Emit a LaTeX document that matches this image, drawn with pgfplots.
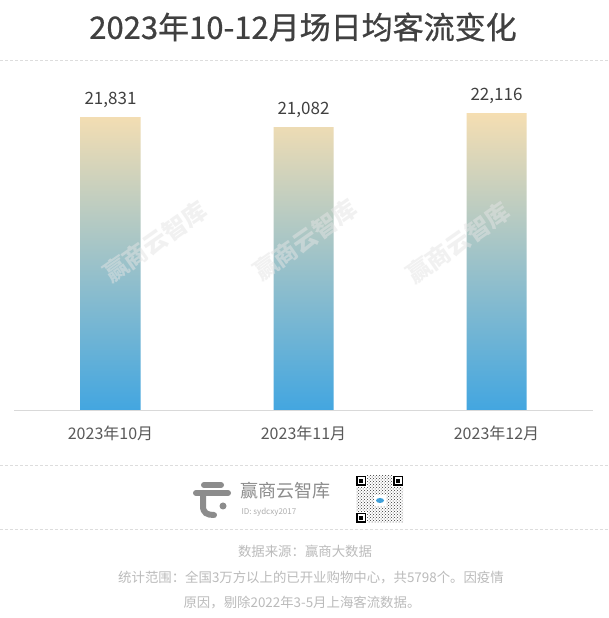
\documentclass[border=0pt]{standalone}
\usepackage{pgfplots}
\pgfplotsset{compat=1.18}
\usepackage{fontspec}
\setmainfont{Noto Sans CJK SC}
\newfontfamily\titlefont[FakeBold=0.7]{Noto Sans CJK SC}
\usetikzlibrary{patterns}

\definecolor{titlegray}{HTML}{404040}
\definecolor{labelgray}{HTML}{595959}
\definecolor{axisgray}{HTML}{D9D9D9}
\definecolor{dashgray}{HTML}{DDDDDD}
\definecolor{footgray}{HTML}{BBBBBB}
\definecolor{logogray}{HTML}{8C8C8C}
\definecolor{bartop}{HTML}{F5DEB2}
\definecolor{barmid}{HTML}{AFC6C7}
\definecolor{barbot}{HTML}{43A6E0}
\definecolor{wmgray}{HTML}{E4E4E4}
\definecolor{qrblue}{HTML}{3FA0DA}

\begin{document}
\begin{tikzpicture}[x=1pt,y=1pt]
\useasboundingbox[fill=white] (0,0) rectangle (608,618);

% title
\node[text=titlegray, font=\fontsize{31pt}{35pt}\titlefont] at (303,591) {2023年10-12月场日均客流变化};
\draw[dashgray, dash pattern=on 3pt off 2pt, line width=0.8pt] (0,558) -- (608,558);

\begin{axis}[
    at={(14pt,208pt)}, anchor=south west,
    scale only axis, width=579pt, height=335.5pt,
    xmin=-0.5, xmax=2.5, ymin=0, ymax=25000,
    axis x line*=bottom, axis y line=none,
    x axis line style={axisgray, line width=0.8pt, -},
    xtick={0,1,2},
    xticklabels={2023年10月, 2023年11月, 2023年12月},
    major x tick style={draw=none},
    extra x ticks={-0.5,0.5,1.5,2.5},
    extra x tick labels={},
    extra x tick style={tick align=outside, major tick length=7pt, tick style={axisgray, line width=0.8pt}},
    xticklabel style={text=labelgray, font=\fontsize{16pt}{19pt}\selectfont, anchor=center, yshift=-19pt},
    ybar, bar width=60pt,
    nodes near coords={\pgfmathprintnumber[1000 sep={,}, assume math mode=true]{\pgfplotspointmeta}},
    nodes near coords style={text=titlegray, font=\fontsize{17pt}{20pt}\selectfont, anchor=center, yshift=17pt},
    clip=false,
  ]
  \addplot[draw=none, top color=bartop, middle color=barmid, bottom color=barbot] coordinates {
    (0, 21831)
    (1, 21082)
    (2, 22116)
  };
\end{axis}

% watermarks, over the bars
\foreach \wx/\wy in {155/376, 305/378, 458/375}
  \node[text=wmgray, opacity=0.5, rotate=35, font=\fontsize{24pt}{26pt}\selectfont\bfseries] at (\wx,\wy) {赢商云智库};

% footer
\draw[dashgray, dash pattern=on 3pt off 2pt, line width=0.8pt] (0,153) -- (608,153);
\draw[dashgray, dash pattern=on 3pt off 2pt, line width=0.8pt] (0,89) -- (608,89);

% logo
\begin{scope}[logogray, line width=6pt, line cap=round]
  \draw (204,133) -- (221,133);
  \draw (196,125) -- (228,125);
  \draw (203,125) -- (203,112) .. controls (203,105) and (207,103) .. (214,103);
  \fill (223,112) circle (3.5pt);
\end{scope}
\node[anchor=west, text=logogray, font=\fontsize{18pt}{20pt}\selectfont] at (237,127) {赢商云智库};
\node[anchor=west, text=logogray!70, font=\fontsize{8pt}{9pt}\selectfont] at (238,106) {ID: sydcxy2017};

% qr code
\fill[pattern=crosshatch dots, pattern color=black!80] (356,95) rectangle (403,142);
\foreach \qx/\qy in {356/132, 393/132, 356/95} {
  \fill[white] (\qx-1,\qy-1) rectangle (\qx+11,\qy+11);
  \draw[black, line width=1.5pt] (\qx+0.75,\qy+0.75) rectangle (\qx+9.25,\qy+9.25);
  \fill[black] (\qx+3,\qy+3) rectangle (\qx+7,\qy+7);
}
\fill[white] (374,112) rectangle (386,123);
\fill[qrblue] (380,117.5) ellipse (4pt and 2.5pt);

\node[text=footgray, font=\fontsize{13.4pt}{16pt}\selectfont] at (305,67) {数据来源：赢商大数据};
\node[text=footgray, font=\fontsize{13.4pt}{16pt}\selectfont] at (311,40) {统计范围：全国3万方以上的已开业购物中心，共5798个。因疫情};
\node[text=footgray, font=\fontsize{13.4pt}{16pt}\selectfont] at (302,15) {原因，剔除2022年3-5月上海客流数据。};
\end{tikzpicture}
\end{document}
